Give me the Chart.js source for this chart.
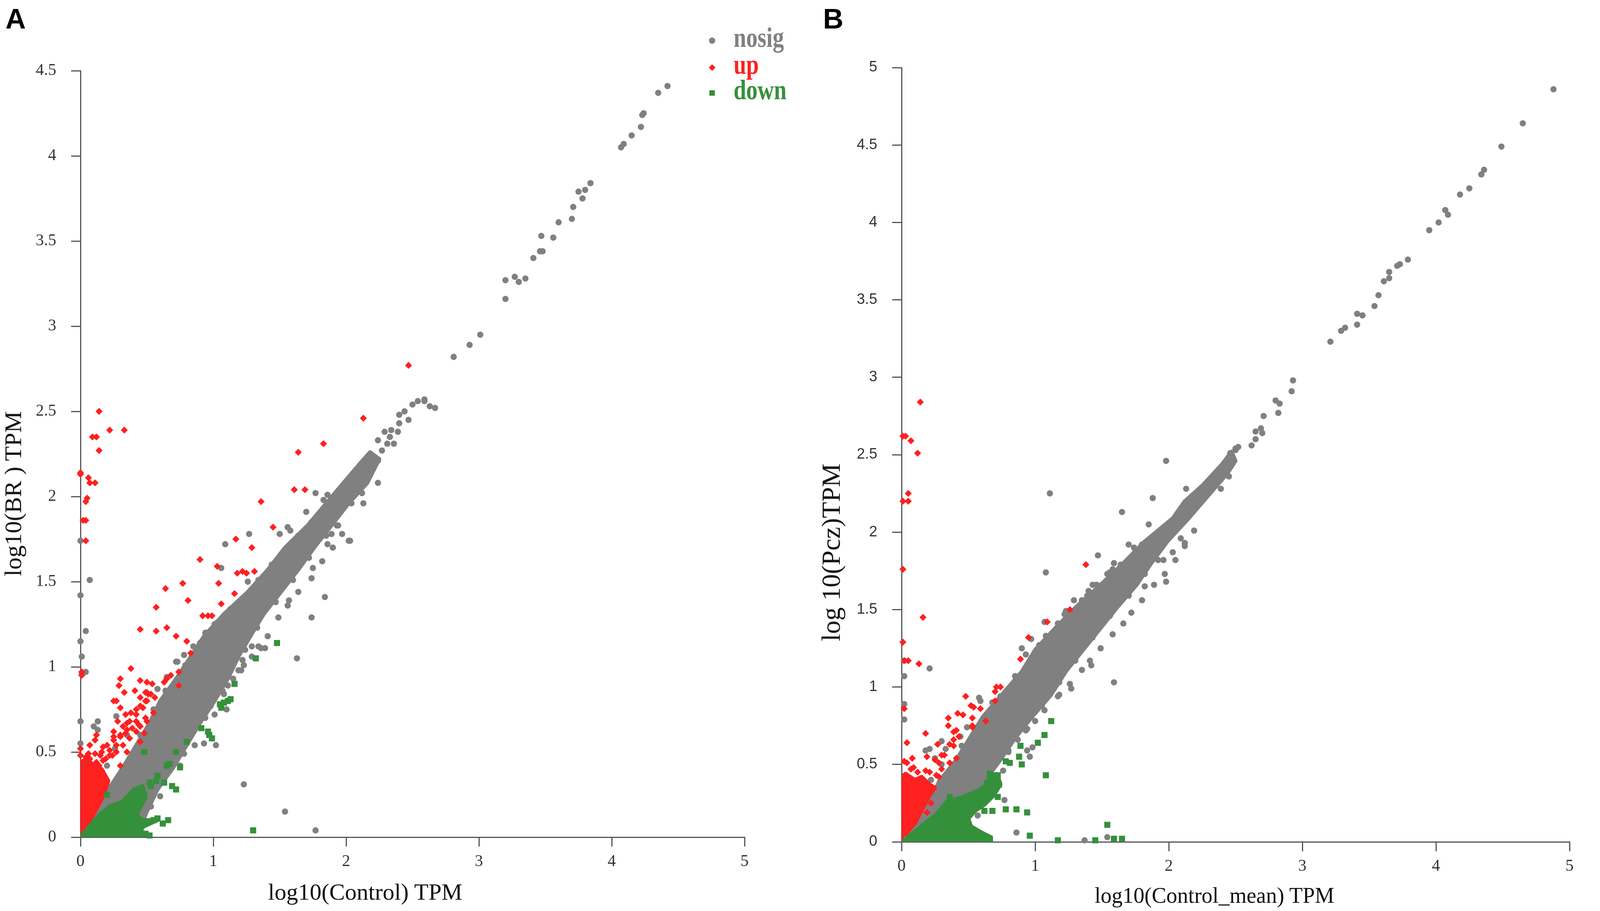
<!DOCTYPE html>
<html>
<head>
<meta charset="utf-8">
<title>log10 TPM scatter, panels A and B</title>
<script src="https://cdn.jsdelivr.net/npm/chart.js@4.4.1/dist/chart.umd.min.js"></script>
<style>
  html, body { margin: 0; padding: 0; background: #fff; }
  #page { position: relative; width: 4317px; height: 2332px; overflow: hidden; }
  canvas { position: absolute; top: 0; }
  .txt { position: absolute; white-space: nowrap; line-height: 1; color: #111; }
  .panel { font-family: "Liberation Sans", Arial, sans-serif; font-weight: bold; font-size: 72px; color: #000; }
  .serif { font-family: "Liberation Serif", "Times New Roman", serif; }
  .ytitle { transform: translate(-50%, -50%) rotate(-90deg); transform-origin: center; }
  .xtitle { transform: translateX(-50%); }
  .lg { font-family: "Liberation Serif", "Times New Roman", serif; font-weight: bold; font-size: 58px; transform: scaleY(1.25); transform-origin: left center; }
  .mk { position: absolute; }
</style>
</head>
<body>
<div id="page">
  <canvas id="chartA" width="2158" height="2332" style="left:0px"></canvas>
  <canvas id="chartB" width="2159" height="2332" style="left:2158px"></canvas>

  <div class="txt panel" style="left:14px; top:12px">A</div>
  <div class="txt panel" style="left:2107px; top:12px">B</div>

  <div class="txt serif ytitle" style="left:33px; top:1264px; font-size:62px">log10(BR ) TPM</div>
  <div class="txt serif ytitle" style="left:2127px; top:1414px; font-size:68px">log 10(Pcz)TPM</div>
  <div class="txt serif xtitle" style="left:935px; top:2253px; font-size:60px">log10(Control) TPM</div>
  <div class="txt serif xtitle" style="left:3109px; top:2264px; font-size:56px">log10(Control_mean) TPM</div>

  <div id="legendA"></div>
  <div id="legendB"></div>
</div>

<script>
// axes
const xTicks = [0, 1, 2, 3, 4, 5];
const yTicksA = [0, 0.5, 1, 1.5, 2, 2.5, 3, 3.5, 4, 4.5];
const yTicksB = [0, 0.5, 1, 1.5, 2, 2.5, 3, 3.5, 4, 4.5, 5];
const groups = ['nosig', 'up', 'down'];

// ---- panel A : log10(Control) vs log10(BR) ----
// saturated cores of the clouds, traced as outlines [x, y]
const nosigCoreA = [
  [0, 0], [0.11, 0.15], [0.21, 0.28], [0.32, 0.41], [0.42, 0.54], [0.52, 0.67], [0.60, 0.80],
  [0.72, 0.93], [0.83, 1.06], [0.93, 1.18], [1.08, 1.31], [1.26, 1.44], [1.41, 1.57], [1.54, 1.70],
  [1.71, 1.83], [1.85, 1.96], [1.98, 2.08], [2.10, 2.19], [2.18, 2.26],
  [2.25, 2.22], [2.16, 2.08], [2.02, 1.96], [1.89, 1.83], [1.76, 1.70], [1.64, 1.57], [1.51, 1.44],
  [1.38, 1.31], [1.28, 1.18], [1.19, 1.06], [1.11, 0.93], [1.01, 0.80], [0.90, 0.67], [0.80, 0.54],
  [0.70, 0.41], [0.58, 0.28], [0.50, 0.15], [0.44, 0.04], [0.42, 0]
];
const upCoreA = [
  [0, 0.01], [0, 0.44], [0.05, 0.46], [0.10, 0.42], [0.16, 0.40], [0.21, 0.33],
  [0.17, 0.24], [0.11, 0.15], [0.05, 0.07], [0.01, 0.01]
];
const downCoreA = [
  [0.01, 0], [0.02, 0.02], [0.14, 0.13], [0.22, 0.18], [0.32, 0.21], [0.40, 0.28], [0.47, 0.30],
  [0.49, 0.23], [0.42, 0.13], [0.47, 0.10], [0.58, 0.10], [0.47, 0.06], [0.44, 0.01], [0.44, 0]
];
// single genes
const nosigA = [
  [4.42, 4.41], [4.35, 4.37], [4.24, 4.25], [4.23, 4.24], [4.22, 4.17], [4.15, 4.12], [4.09, 4.07], [4.07, 4.05],
  [3.84, 3.84], [3.80, 3.80], [3.75, 3.79], [3.78, 3.75], [3.71, 3.70], [3.70, 3.63], [3.60, 3.61], [3.56, 3.52],
  [3.47, 3.53], [3.48, 3.44], [3.46, 3.44], [3.41, 3.40], [3.35, 3.28], [3.27, 3.29], [3.30, 3.26], [3.20, 3.27],
  [3.20, 3.16], [3.01, 2.95], [2.93, 2.89], [2.81, 2.82],
  [2.67, 2.52], [2.63, 2.53], [2.59, 2.57], [2.59, 2.56], [2.54, 2.56], [2.50, 2.54], [2.44, 2.50], [2.40, 2.48],
  [2.47, 2.45], [2.40, 2.43], [2.39, 2.38], [2.34, 2.39], [2.29, 2.38], [2.33, 2.35], [2.24, 2.33], [2.31, 2.31],
  [2.36, 2.31], [2.27, 2.27], [2.24, 2.21], [2.16, 2.22], [2.19, 2.19], [2.12, 2.17], [2.24, 2.08], [2.13, 1.96],
  [2.12, 2.02], [2.03, 2.07], [2.07, 2.09], [1.77, 2.02], [1.86, 2.01], [1.83, 1.98], [1.86, 1.95], [1.70, 1.91],
  [2.04, 1.96], [1.94, 1.83], [2.03, 1.74], [1.86, 1.72], [1.66, 1.78], [1.93, 1.83],
  [0.07, 1.51], [0, 1.42], [0.04, 1.21], [0, 1.15], [0.01, 1.06], [0.04, 0.97], [0.01, 0.96], [0, 0.68],
  [0.13, 0.68], [0.10, 0.65], [0.13, 0.63], [0, 0.55], [0.27, 0.71], [0, 1.74],
  [1.56, 1.82], [1.58, 1.80], [1.27, 1.78], [1.50, 1.78], [1.09, 1.72], [2.02, 1.74], [1.84, 1.41], [1.74, 1.29],
  [1.63, 1.05], [1.23, 0.31], [1.54, 0.15], [1.77, 0.04], [1.06, 1.58], [1.45, 1.60], [1.75, 1.58], [1.57, 1.39],
  [1.26, 1.50], [1.13, 1.34], [1.01, 1.25], [0.95, 1.20], [0.78, 1.07], [0.73, 1.03], [1.39, 1.11], [1.34, 1.12],
  [1.29, 1.12], [1.22, 1.04], [1.23, 1.01], [1.19, 0.98], [1.11, 0.89], [1.10, 0.75], [1.01, 0.72], [0.86, 0.54],
  [0.93, 0.55], [1.02, 0.54], [0.75, 0.42], [0.60, 0.24], [0.53, 0.18],
  [0.45, 0.60], [0.55, 0.75], [0.64, 0.86], [0.79, 1.01], [0.90, 1.14], [1.03, 1.26], [1.19, 1.38], [1.35, 1.51],
  [1.50, 1.64], [1.64, 1.77], [0.62, 0.33], [0.78, 0.49], [0.94, 0.70], [1.07, 0.86], [1.24, 1.10], [1.33, 1.23],
  [1.47, 1.38], [1.60, 1.51], [1.72, 1.64], [1.85, 1.77], [0.20, 0.42], [0.26, 0.52], [0.35, 0.60],
  [0.58, 0.87], [0.65, 0.94], [0.72, 1.03], [0.85, 1.12], [0.94, 1.20], [1.08, 1.26], [1.19, 1.35], [1.24, 1.39],
  [1.34, 1.51], [1.39, 1.54], [1.44, 1.60], [1.51, 1.63], [1.57, 1.70], [1.66, 1.76], [1.74, 1.85], [1.84, 1.90],
  [0.91, 0.72], [0.98, 0.77], [1.08, 0.84], [1.15, 0.93], [1.21, 0.98], [1.29, 1.06], [1.36, 1.11], [1.41, 1.18],
  [1.49, 1.29], [1.56, 1.36], [1.64, 1.44], [1.74, 1.52], [1.82, 1.62], [1.90, 1.70], [1.97, 1.78], [1.89, 1.78]
];
const upA = [
  [0.14, 2.50], [0.09, 2.35], [0.12, 2.35], [0.22, 2.39], [0.33, 2.39], [0.14, 2.27], [0, 2.14], [0, 2.13],
  [0.06, 2.11], [0.07, 2.08], [0.11, 2.08], [0.05, 1.99], [0.04, 1.97], [0.02, 1.86], [0.04, 1.86], [0.04, 1.74],
  [2.47, 2.77], [2.13, 2.46], [1.83, 2.31], [1.64, 2.26], [1.61, 2.04], [1.69, 2.04],
  [1.36, 1.97], [1.45, 1.82], [1.17, 1.75], [1.29, 1.70], [0.90, 1.63], [1.03, 1.59], [1.18, 1.55], [1.22, 1.56],
  [1.25, 1.55], [1.31, 1.56], [0.64, 1.46], [0.77, 1.49], [1.04, 1.49], [0.81, 1.39], [1.16, 1.43], [0.57, 1.35],
  [1.06, 1.37], [0.92, 1.30], [0.96, 1.30], [0.99, 1.30], [0.45, 1.22], [0.57, 1.21], [0.65, 1.23], [0.72, 1.18],
  [0.80, 1.15], [0.83, 1.08], [0.38, 0.99], [0.30, 0.93], [0.45, 0.92], [0.29, 0.89], [0.33, 0.85], [0.41, 0.86],
  [0.50, 0.91], [0.54, 0.90], [0.63, 0.91], [0.65, 0.93], [0.68, 0.95], [0.74, 0.89], [0.74, 0.97], [0.25, 0.80],
  [0.27, 0.80], [0.30, 0.76], [0.49, 0.85], [0.51, 0.84], [0.56, 0.82], [0.38, 0.73], [0.42, 0.75], [0.45, 0.77],
  [0.49, 0.80], [0.55, 0.73], [0.28, 0.68], [0.37, 0.68], [0.42, 0.68], [0.50, 0.68], [0.32, 0.65], [0.39, 0.64],
  [0.45, 0.65], [0.48, 0.61], [0.12, 0.60], [0.11, 0.57], [0.07, 0.54], [0, 0.52], [0.04, 0.47], [0, 0.48],
  [0.45, 0.56], [0.35, 0.50], [0.30, 0.42], [0.25, 0.59], [0.30, 0.60], [0.34, 0.61], [0.17, 0.53], [0.22, 0.51],
  [0.27, 0.54], [0.15, 0.48], [0.19, 0.46], [0.24, 0.48], [0.09, 0.40], [0.14, 0.42], [0.01, 0.97], [0.01, 0.95],
  [0.35, 0.67], [0.42, 0.72], [0.47, 0.76], [0.50, 0.80], [0.53, 0.84], [0.42, 0.62], [0.37, 0.58], [0.32, 0.54],
  [0.27, 0.50], [0.22, 0.48], [0.17, 0.45], [0.12, 0.44], [0.07, 0.46], [0.44, 0.66], [0.49, 0.70], [0.35, 0.63],
  [0.30, 0.59], [0.25, 0.57], [0.20, 0.54], [0.16, 0.50], [0.11, 0.49], [0.06, 0.49], [0.25, 0.62], [0.34, 0.72],
  [0.50, 0.85], [0.45, 0.82]
];
const downA = [
  [1.48, 1.14], [1.32, 1.05], [1.16, 0.90], [1.13, 0.81], [1.11, 0.80], [1.08, 0.79], [1.06, 0.76], [1.05, 0.78],
  [0.91, 0.64], [0.96, 0.62], [0.97, 0.60], [0.99, 0.58], [0.80, 0.56], [0.48, 0.50], [0.72, 0.50], [0.65, 0.42],
  [0.67, 0.43], [0.75, 0.41], [0.58, 0.36], [0.57, 0.33], [0.63, 0.32], [0.69, 0.30], [0.72, 0.28], [0.52, 0.32],
  [0.53, 0.30], [0.20, 0.25], [0.55, 0.10], [0.58, 0.11], [0.52, 0.01], [1.30, 0.04], [0.62, 0.08], [0.66, 0.10],
  [0.46, 0.02], [0.49, 0.02], [0.44, 0.22], [0.48, 0.25]
];

// ---- panel B : log10(Control_mean) vs log10(Pcz) ----
const nosigCoreB = [
  [0, 0], [0.10, 0.10], [0.21, 0.25], [0.28, 0.39], [0.41, 0.53], [0.51, 0.67], [0.61, 0.81], [0.75, 0.95],
  [0.90, 1.10], [1.00, 1.24], [1.15, 1.38], [1.31, 1.52], [1.49, 1.66], [1.66, 1.80], [1.82, 1.94], [2.03, 2.09],
  [2.12, 2.20], [2.25, 2.30], [2.40, 2.44], [2.47, 2.52],
  [2.50, 2.46], [2.44, 2.38], [2.34, 2.28], [2.24, 2.18], [2.15, 2.09], [1.99, 1.94], [1.87, 1.80], [1.76, 1.66],
  [1.62, 1.52], [1.49, 1.38], [1.36, 1.24], [1.23, 1.10], [1.12, 0.95], [0.98, 0.81], [0.85, 0.67], [0.74, 0.53],
  [0.62, 0.39], [0.50, 0.25], [0.40, 0.10], [0.36, 0]
];
const upCoreB = [
  [0, 0], [0, 0.42], [0.03, 0.44], [0.10, 0.40], [0.15, 0.42], [0.21, 0.37], [0.25, 0.35],
  [0.21, 0.30], [0.16, 0.22], [0.10, 0.12], [0.03, 0.05]
];
const downCoreB = [
  [0.02, 0], [0.02, 0.01], [0.16, 0.11], [0.25, 0.17], [0.34, 0.26], [0.46, 0.29], [0.57, 0.33], [0.64, 0.37],
  [0.66, 0.44], [0.72, 0.43], [0.74, 0.37], [0.69, 0.30], [0.62, 0.24], [0.55, 0.20], [0.50, 0.15], [0.52, 0.10],
  [0.60, 0.06], [0.67, 0.03], [0.67, 0]
];
const nosigB = [
  [4.88, 4.86], [4.65, 4.64], [4.49, 4.49], [4.36, 4.34], [4.34, 4.31], [4.25, 4.22], [4.18, 4.18], [4.07, 4.08],
  [4.09, 4.05], [4.02, 4.00], [3.95, 3.95], [3.79, 3.76], [3.73, 3.73], [3.71, 3.72], [3.65, 3.68], [3.65, 3.64],
  [3.61, 3.62], [3.57, 3.53], [3.54, 3.46], [3.45, 3.40], [3.41, 3.41], [3.41, 3.34], [3.32, 3.32], [3.29, 3.30],
  [3.21, 3.23], [2.93, 2.98], [2.92, 2.91], [2.83, 2.83], [2.82, 2.77], [2.80, 2.85], [2.71, 2.75], [2.69, 2.67],
  [2.70, 2.64], [2.65, 2.65], [2.65, 2.60], [2.62, 2.56], [2.52, 2.55], [2.50, 2.54], [2.46, 2.51],
  [1.98, 2.46], [1.11, 2.25], [1.88, 2.22], [1.65, 2.13], [1.85, 2.05], [2.19, 2.01], [1.08, 1.74], [1.47, 1.85],
  [1.59, 1.80], [1.56, 1.74], [1.43, 1.66], [1.70, 1.92], [1.74, 1.90], [1.98, 1.68], [2.03, 1.87], [2.12, 1.91],
  [2.09, 1.96], [2.13, 2.28], [2.39, 2.28], [2.45, 2.36], [2.47, 2.48], [2.50, 2.53], [2.44, 2.41], [1.92, 1.82],
  [1.96, 1.82], [1.82, 1.65], [1.53, 1.65], [1.29, 1.56], [1.31, 1.47], [1.17, 1.41], [0.21, 1.12], [0.02, 1.07],
  [0.02, 1.17], [0.02, 0.89], [0.02, 0.79], [1.42, 1.14], [1.59, 1.03], [1.27, 0.99], [1.18, 0.95], [0.58, 0.93],
  [1.03, 1.27], [1.00, 1.22], [0.93, 1.21], [0.30, 0.65], [0.18, 0.59], [0.21, 0.60], [0.96, 0.55], [0.94, 0.59],
  [0.98, 0.61], [0.76, 0.46], [0.77, 0.27], [0.86, 0.06], [1.37, 0.01], [1.54, 0.03], [0.57, 0.17],
  [0.45, 0.62], [0.68, 0.90], [0.85, 1.07], [1.08, 1.33], [1.22, 1.47], [1.40, 1.62], [1.58, 1.76], [1.75, 1.88],
  [0.80, 0.58], [0.93, 0.72], [1.05, 0.88], [1.18, 1.03], [1.30, 1.17], [1.43, 1.32], [1.56, 1.46], [1.70, 1.59],
  [1.82, 1.73], [0.22, 0.40], [0.30, 0.50],
  [0.90, 1.25], [0.97, 1.31], [1.07, 1.42], [1.23, 1.49], [1.35, 1.56], [1.39, 1.59], [1.46, 1.66], [1.54, 1.73],
  [1.64, 1.79], [1.80, 1.92], [0.74, 0.94], [0.59, 0.91], [0.66, 0.84], [0.49, 0.74], [0.44, 0.68], [0.33, 0.60],
  [0.25, 0.54], [1.00, 0.78], [1.07, 0.85], [1.17, 0.94], [1.26, 1.02], [1.35, 1.11], [1.41, 1.17], [1.49, 1.25],
  [1.58, 1.34], [1.66, 1.41], [1.72, 1.48], [1.80, 1.56], [1.89, 1.66], [1.97, 1.73], [2.05, 1.82], [2.12, 1.93],
  [0.94, 0.73], [0.87, 0.66], [0.80, 0.59]
];
const upB = [
  [0.14, 2.84], [0.01, 2.62], [0.03, 2.62], [0.07, 2.59], [0.12, 2.51], [0.05, 2.25], [0.01, 2.20], [0.05, 2.20],
  [0.01, 1.76], [0.16, 1.45], [0.01, 1.29], [0.05, 1.17], [0.02, 1.17], [0.13, 1.15], [1.38, 1.79], [1.26, 1.50],
  [1.09, 1.42], [0.95, 1.32], [0.89, 1.18], [0.71, 1.00], [0.74, 1.00], [0.70, 0.97], [0.70, 0.91], [0.48, 0.94],
  [0.02, 0.86], [0.52, 0.88], [0.54, 0.87], [0.59, 0.86], [0.42, 0.83], [0.46, 0.82], [0.53, 0.80], [0.35, 0.80],
  [0.63, 0.78], [0.35, 0.75], [0.53, 0.75], [0.53, 0.74], [0.18, 0.70], [0.41, 0.72], [0.39, 0.71], [0.43, 0.68],
  [0.04, 0.64], [0.27, 0.63], [0.39, 0.66], [0.39, 0.62], [0.36, 0.63], [0.08, 0.54], [0.19, 0.55], [0.30, 0.56],
  [0.32, 0.56], [0.36, 0.51], [0.41, 0.54], [0.02, 0.52], [0.04, 0.51], [0.25, 0.53], [0.28, 0.51], [0.09, 0.48],
  [0.07, 0.47], [0.18, 0.46], [0.21, 0.45], [0.30, 0.47], [0.26, 0.43], [0.28, 0.42], [0.22, 0.25], [0.19, 0.19],
  [0.12, 0.45]
];
const downB = [
  [1.12, 0.78], [1.07, 0.69], [1.02, 0.64], [0.89, 0.62], [0.88, 0.55], [0.90, 0.50], [0.78, 0.52], [0.81, 0.51],
  [1.08, 0.43], [0.66, 0.44], [0.70, 0.43], [0.72, 0.43], [0.73, 0.37], [0.72, 0.29], [0.64, 0.38], [0.36, 0.29],
  [0.62, 0.20], [0.68, 0.20], [0.78, 0.21], [0.86, 0.21], [0.94, 0.19], [1.54, 0.11], [0.96, 0.04], [1.17, 0.01],
  [1.45, 0.01], [1.59, 0.02], [1.65, 0.02], [0.53, 0.08], [0.57, 0.06], [0.64, 0.02], [0.66, 0.02]
];

const colors = { nosig: '#808080', up: '#ff2020', down: '#35903b' };
const markers = { nosig: ['circle', 8], up: ['rectRot', 9], down: ['rect', 11] };
const axisColor = '#555555';

function toXY(arr) {
  return arr.map(function (p) { return { x: p[0], y: p[1] }; });
}

// dense part of a group: closed outline filled through the scales
function core(arr, color, order) {
  return {
    type: 'line',
    data: toXY(arr),
    showLine: true,
    fill: 'shape',
    backgroundColor: color,
    borderColor: color,
    borderWidth: 10,
    borderJoinStyle: 'round',
    borderCapStyle: 'round',
    tension: 0,
    pointRadius: 0,
    pointHitRadius: 0,
    clip: 0,
    order: order
  };
}

function points(label, arr, order) {
  return {
    type: 'scatter',
    label: label,
    data: toXY(arr),
    pointStyle: markers[label][0],
    pointRadius: markers[label][1],
    pointBorderWidth: 0,
    backgroundColor: colors[label],
    borderColor: colors[label],
    clip: false,
    order: order
  };
}

function makeChart(id, p) {
  var ctx = document.getElementById(id).getContext('2d');
  return new Chart(ctx, {
    type: 'scatter',
    data: {
      datasets: [
        core(p.cores[0], colors.nosig, 6),
        points(groups[0], p.sets[0], 5),
        core(p.cores[1], colors.up, 4),
        points(groups[1], p.sets[1], 3),
        core(p.cores[2], colors.down, 2),
        points(groups[2], p.sets[2], 1)
      ]
    },
    options: {
      responsive: false,
      animation: false,
      events: [],
      layout: { padding: { left: 0, top: p.top, right: p.right, bottom: p.bottom } },
      plugins: { legend: { display: false }, tooltip: { enabled: false } },
      scales: {
        x: {
          type: 'linear',
          min: 0,
          max: 5,
          afterBuildTicks: function (s) { s.ticks = xTicks.map(function (v) { return { value: v }; }); },
          afterFit: function (s) { s.height = 90; },
          ticks: {
            font: { family: 'Liberation Serif', size: 42 },
            color: '#333',
            padding: 14,
            maxRotation: 0,
            autoSkip: false
          },
          grid: { drawOnChartArea: false, tickLength: 24, color: axisColor, lineWidth: 3 },
          border: { display: true, color: axisColor, width: 3 }
        },
        y: {
          type: 'linear',
          min: 0,
          max: p.yTicks[p.yTicks.length - 1],
          afterBuildTicks: function (s) { s.ticks = p.yTicks.map(function (v) { return { value: v }; }); },
          afterFit: function (s) { s.width = p.yWidth; },
          ticks: {
            font: p.yFont,
            color: '#333',
            padding: 38,
            autoSkip: false,
            callback: function (v) { return String(v); }
          },
          grid: { drawOnChartArea: false, tickLength: 24, color: axisColor, lineWidth: 3 },
          border: { display: true, color: axisColor, width: 3 }
        }
      }
    }
  });
}

// legend: marker + coloured bold label, stacked at the top right
function makeLegend(id, mx, tx, ys) {
  var box = document.getElementById(id);
  groups.forEach(function (g, i) {
    var y = ys[i];
    var m = document.createElement('div');
    m.className = 'mk';
    m.style.background = colors[g];
    if (g === 'nosig') {
      m.style.cssText += 'width:16px;height:16px;border-radius:50%;left:' + (mx - 8) + 'px;top:' + (y - 8) + 'px;';
    } else if (g === 'up') {
      m.style.cssText += 'width:12px;height:12px;transform:rotate(45deg);left:' + (mx - 6) + 'px;top:' + (y - 6) + 'px;';
    } else {
      m.style.cssText += 'width:14px;height:14px;left:' + (mx - 7) + 'px;top:' + (y - 7) + 'px;';
    }
    box.appendChild(m);
    var t = document.createElement('div');
    t.className = 'txt lg';
    t.textContent = g;
    t.style.color = colors[g];
    t.style.left = tx + 'px';
    t.style.top = (y - 37) + 'px';
    box.appendChild(t);
  });
}

makeChart('chartA', {
  cores: [nosigCoreA, upCoreA, downCoreA],
  sets: [nosigA, upA, downA],
  yTicks: yTicksA,
  yFont: { family: 'Liberation Serif', size: 42 },
  yWidth: 206, top: 181, right: 252, bottom: 2332 - 2143 - 90
});
makeChart('chartB', {
  cores: [nosigCoreB, upCoreB, downCoreB],
  sets: [nosigB, upB, downB],
  yTicks: yTicksB,
  yFont: { family: 'Liberation Sans', size: 38 },
  yWidth: 150, top: 173, right: 2159 - 1860, bottom: 2332 - 2155 - 90
});
makeLegend('legendA', 1823, 1878, [104, 173, 238]);
makeLegend('legendB', 4133, 4184, [95, 162, 227]);
</script>
</body>
</html>
